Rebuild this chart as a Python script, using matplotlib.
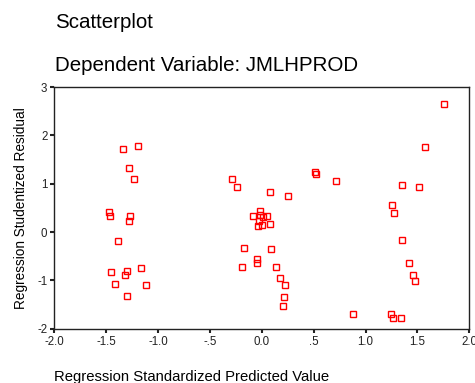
import matplotlib
matplotlib.use("Agg")
import matplotlib.pyplot as plt

# standardized predicted values (x) and studentized residuals (y)
pred = [-1.338, -1.196, -1.280, -1.232, -1.473, -1.460, -1.270, -1.283,
        -1.389, -1.451, -1.296, -1.319, -1.164, -1.418, -1.113, -1.296,
        -0.284, -0.236,
        -0.020, -0.085, -0.017, 0.014, 0.053, -0.030, 0.079, 0.005, -0.034,
        0.079, 0.253, -0.174, 0.089, -0.043, -0.043, -0.188, 0.140, 0.172,
        0.224, 0.214, 0.201,
        0.510, 0.519, 0.712, 0.876,
        1.756, 1.570, 1.354, 1.518, 1.252, 1.271, 1.354, 1.416, 1.454,
        1.477, 1.242, 1.262, 1.345]
resid = [1.716, 1.778, 1.323, 1.089, 0.418, 0.329, 0.329, 0.226,
         -0.195, -0.836, -0.816, -0.886, -0.754, -1.072, -1.099, -1.333,
         1.089, 0.936,
         0.426, 0.329, 0.344, 0.308, 0.329, 0.219, 0.157, 0.136, 0.116,
         0.826, 0.743, -0.340, -0.360, -0.554, -0.644, -0.733, -0.733, -0.948,
         -1.099, -1.342, -1.534,
         1.240, 1.192, 1.047, -1.706,
         2.648, 1.758, 0.978, 0.936, 0.564, 0.391, -0.168, -0.644, -0.899,
         -1.010, -1.706, -1.789, -1.789]

xticks = [-2.0, -1.5, -1.0, -0.5, 0.0, 0.5, 1.0, 1.5, 2.0]
xtick_labels = ["-2.0", "-1.5", "-1.0", "-.5", "0.0", ".5", "1.0", "1.5", "2.0"]
yticks = [-2, -1, 0, 1, 2, 3]

plt.rcParams["font.family"] = ["Liberation Sans", "DejaVu Sans"]
plt.rcParams["axes.unicode_minus"] = False

fig = plt.figure(figsize=(4.75, 3.83), dpi=100)
ax = fig.add_axes([0.1143, 0.1418, 0.8737, 0.631])

ax.plot(pred, resid, linestyle="none", marker="s", markersize=4,
        markerfacecolor="none", markeredgecolor="#ff0000", markeredgewidth=1)

ax.set_xlim(-2, 2)
ax.set_ylim(-2, 3)
ax.set_xticks(xticks)
ax.set_xticklabels(xtick_labels)
ax.set_yticks(yticks)
ax.tick_params(direction="out", length=3, width=1.5, labelsize=8.3, colors="#222222", pad=2)

for s in ax.spines.values():
    s.set_linewidth(1)
    s.set_color("#222222")

fig.text(0.1158, 0.928, "Scatterplot", fontsize=14.8, ha="left", va="baseline")
fig.text(0.1158, 0.814, "Dependent Variable: JMLHPROD", fontsize=14.8, ha="left", va="baseline")

ax.set_xlabel("Regression Standardized Predicted Value", fontsize=10.7, labelpad=16,
              loc="left")
ax.set_ylabel("Regression Studentized Residual", fontsize=9.8, labelpad=7)

fig.savefig("out.png", dpi=100)
